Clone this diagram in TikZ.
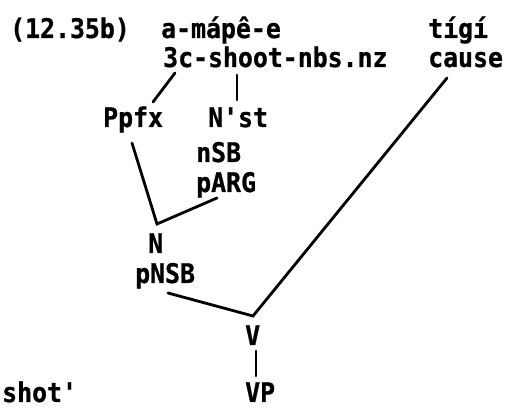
\documentclass[tikz,border=0pt]{standalone}
\usepackage{fontspec}
\newfontfamily\tw{DejaVu Sans Mono Bold}[Ligatures=TeXOff,FakeStretch=0.92,FakeBold=0.8]
\usetikzlibrary{calc}
\begin{document}
\begin{tikzpicture}[x=1pt,y=-1pt,
  lbl/.style={anchor=base west,inner sep=0pt,font=\tw\fontsize{27}{32}\selectfont},
  tl/.style={line width=2.8pt,line cap=round}]
\useasboundingbox (0,0) rectangle (509,411);
\node[lbl] (ex) at (10,38) {(12.35b)};
\node[lbl] (l1) at (161,38) {a-mápê-e};
\node[lbl] (l2) at (163,67) {3c-shoot-nbs.nz};
\node[lbl] (tigi) at (428,38) {tígí};
\node[lbl] (cause) at (428,67) {cause};
\node[lbl] (ppfx) at (103,127) {Ppfx};
\node[lbl] (nst) at (208,127) {N'st};
\node[lbl] (nsb) at (196,162) {nSB};
\node[lbl] (parg) at (196,192) {pARG};
\node[lbl] (n) at (148,253) {N};
\node[lbl] (pnsb) at (135,283) {pNSB};
\node[lbl] (v) at (245,345) {V};
\node[lbl] (vp) at (245,402) {VP};
\node[lbl] (shot) at (2,402) {shot'};
\coordinate (jN) at ($(n.base west)+(9,-29)$);
\coordinate (jV) at ($(v.base west)+(8,-29)$);
\draw[tl] ($(l2.base west)+(12,6)$) -- ($(ppfx.base west)+(50,-25)$);
\draw[tl] ($(l2.base west)+(74,8)$) -- ($(nst.base west)+(29,-27)$);
\draw[tl] ($(ppfx.base west)+(29,16)$) -- (jN) -- ($(parg.base west)+(21,6)$);
\draw[tl] ($(pnsb.base west)+(33,10)$) -- (jV) -- ($(cause.base west)+(19,11)$);
\draw[tl] ($(v.base west)+(11,6)$) -- ($(vp.base west)+(11,-26)$);
\end{tikzpicture}
\end{document}
